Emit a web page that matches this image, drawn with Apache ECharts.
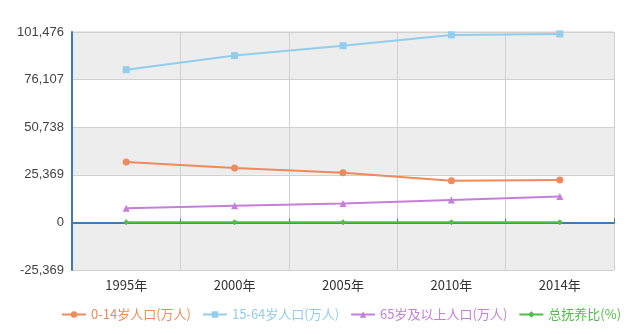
<!DOCTYPE html>
<html>
<head>
<meta charset="utf-8">
<script src="https://cdn.jsdelivr.net/npm/echarts@6/dist/echarts.min.js"></script>
<style>
  html, body { margin: 0; padding: 0; background: #fff; }
  #chart { width: 640px; height: 334px; }
</style>
</head>
<body>
<div id="chart"></div>
<script>
// Population structure by age group (10k persons) and total dependency ratio (%)
const years = ['1995年', '2000年', '2005年', '2010年', '2014年'];
const age0to14 = [32218, 29012, 26504, 22259, 22558];
const age15to64 = [81393, 88910, 94197, 99938, 100469];
const age65plus = [7510, 8821, 10055, 11894, 13755];
const dependencyRatio = [48.8, 42.6, 38.8, 34.2, 36.2];

const seriesNames = ['0-14岁人口(万人)', '15-64岁人口(万人)', '65岁及以上人口(万人)', '总抚养比(%)'];
const colors = ['#ee8a5c', '#92cdec', '#c57fd9', '#4fbf47'];
const symbols = ['circle', 'rect', 'triangle', 'diamond'];
const values = [age0to14, age15to64, age65plus, dependencyRatio];

const yStep = 25369;
const chart = echarts.init(document.getElementById('chart'));

chart.setOption({
  animation: false,
  color: colors,
  textStyle: { fontFamily: 'Liberation Sans, Arial, sans-serif' },
  grid: { left: 72, right: 26, top: 32, bottom: 64, show: true, borderColor: '#cfcfcf', borderWidth: 1 },
  legend: {
    bottom: 8,
    left: 56,
    itemWidth: 24,
    itemHeight: 8,
    itemGap: 11,
    data: seriesNames.map((n, i) => ({ name: n, textStyle: { color: colors[i] } })),
    textStyle: { fontFamily: 'Noto Sans CJK SC, sans-serif', fontSize: 13 }
  },
  xAxis: [
    {
      type: 'category',
      data: years,
      boundaryGap: true,
      position: 'bottom',
      axisLine: { show: false, onZero: false },
      axisTick: { show: false },
      splitLine: { show: true, lineStyle: { color: '#d0d0d0' } },
      axisLabel: { color: '#333', fontSize: 13, margin: 9, fontFamily: 'Noto Sans CJK SC, sans-serif' }
    },
    {
      type: 'category',
      data: years,
      boundaryGap: true,
      position: 'bottom',
      axisLine: { show: true, onZero: true, lineStyle: { color: '#3d7ab8', width: 2 } },
      axisTick: { show: true, inside: true, length: 4, lineStyle: { color: '#3d7ab8' } },
      axisLabel: { show: false },
      splitLine: { show: false }
    }
  ],
  yAxis: {
    type: 'value',
    min: -yStep,
    max: yStep * 4,
    interval: yStep,
    axisLine: { show: true, lineStyle: { color: '#3d7ab8', width: 2 } },
    axisTick: { show: false },
    axisLabel: {
      color: '#444',
      fontSize: 13,
      margin: 8,
      formatter: v => v.toLocaleString('en-US')
    },
    splitLine: { show: true, lineStyle: { color: '#d0d0d0' } },
    splitArea: { show: true, areaStyle: { color: ['#ededed', '#ffffff'] } }
  },
  series: seriesNames.map((n, i) => ({
    name: n,
    type: 'line',
    xAxisIndex: 0,
    data: values[i],
    symbol: symbols[i],
    symbolSize: i === 3 ? 6 : 7,
    lineStyle: { width: 2, color: colors[i] },
    itemStyle: { color: colors[i] }
  }))
});
</script>
</body>
</html>
